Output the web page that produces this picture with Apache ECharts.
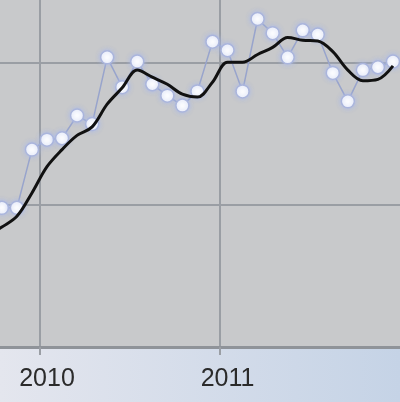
<!DOCTYPE html>
<html>
<head>
<meta charset="utf-8">
<script src="https://cdn.jsdelivr.net/npm/echarts@6/dist/echarts.min.js"></script>
<style>
html,body{margin:0;padding:0;background:#ffffff;}
#c{width:400px;height:402px;}
</style>
</head>
<body>
<div id="c"></div>
<script>
// Monthly categories (Sep 2009 – Dec 2011)
const months = [
  '2009-09','2009-10','2009-11','2009-12',
  '2010-01','2010-02','2010-03','2010-04','2010-05','2010-06',
  '2010-07','2010-08','2010-09','2010-10','2010-11','2010-12',
  '2011-01','2011-02','2011-03','2011-04','2011-05','2011-06',
  '2011-07','2011-08','2011-09','2011-10','2011-11','2011-12'
];
// Monthly values (thin line with markers)
const monthlyValues = [
  null, 9.8, 9.8, 13.9,
  14.6, 14.7, 16.3, 15.7, 20.4, 18.3,
  20.1, 18.5, 17.7, 17.0, 18.0, 21.5,
  20.9, 18.0, 23.1, 22.1, 20.4, 22.3,
  22.0, 19.3, 17.3, 19.5, 19.7, 20.1
];
// Moving average (thick black line)
const movingAverage = [
  7.8, 8.45, 9.2, 10.85,
  12.7, 13.9, 14.9, 15.5, 17.1, 18.25,
  19.5, 19.0, 18.5, 17.8, 17.6, 18.65,
  20.05, 20.05, 20.6, 21.1, 21.8, 21.6,
  21.55, 20.8, 19.5, 18.75, 18.85, 19.8
];
const yearLabels = {'2010-01':'2010','2011-01':'2011'};

const isJan = (i, v) => v.slice(5) === '01';

const chart = echarts.init(document.getElementById('c'), null, {renderer:'canvas'});
chart.setOption({
  animation: false,
  backgroundColor: {
    type: 'linear', x: 0, y: 0, x2: 1, y2: 0,
    colorStops: [{offset: 0, color: '#e4e6ee'}, {offset: 1, color: '#c5d3e6'}]
  },
  grid: {
    left: -20.7, right: -0.5, top: -79, bottom: 55,
    outerBoundsMode: 'none',
    containLabel: false,
    show: true, backgroundColor: '#c8c9cb', borderWidth: 0
  },
  xAxis: {
    type: 'category',
    data: months,
    boundaryGap: true,
    axisLine: {show: true, lineStyle: {color: '#8f9399', width: 3}},
    axisTick: {show: true, interval: isJan, length: 8, lineStyle: {color: '#9a9ea4', width: 2}},
    axisLabel: {
      interval: isJan,
      formatter: v => yearLabels[v] || '',
      fontFamily: 'Liberation Sans',
      fontSize: 25,
      color: '#2b2b2b',
      margin: 20
    },
    splitLine: {show: true, interval: isJan, lineStyle: {color: '#9a9ea4', width: 2}}
  },
  yAxis: {
    type: 'value',
    min: 0, max: 30, interval: 10,
    axisLine: {show: false},
    axisTick: {show: false},
    axisLabel: {show: false},
    splitLine: {show: true, lineStyle: {color: '#9a9ea4', width: 2}}
  },
  series: [
    {
      type: 'line',
      data: monthlyValues,
      connectNulls: false,
      symbol: 'circle',
      symbolSize: 13,
      showSymbol: true,
      showAllSymbol: true,
      lineStyle: {color: '#98a4cc', width: 1.5},
      itemStyle: {
        color: '#ffffff', borderColor: '#aab5dc', borderWidth: 1.5,
        shadowBlur: 5, shadowColor: 'rgba(170,185,235,0.9)'
      },
      z: 2
    },
    {
      type: 'line',
      data: movingAverage,
      smooth: 0.35,
      symbol: 'none',
      lineStyle: {color: '#111111', width: 3},
      z: 3
    }
  ]
});
</script>
</body>
</html>
